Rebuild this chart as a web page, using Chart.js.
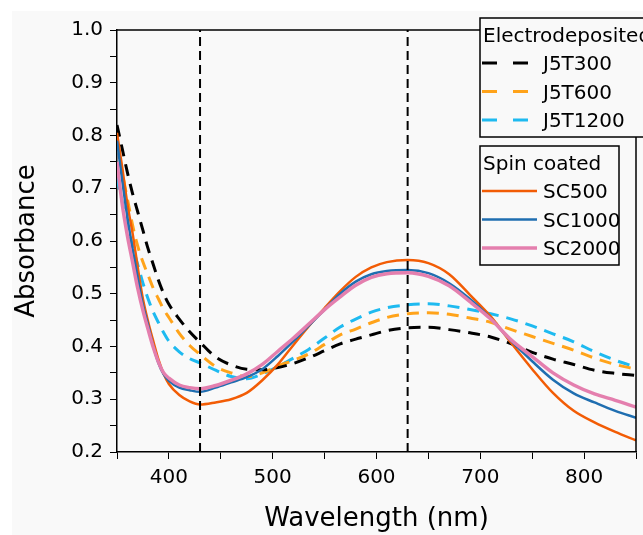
<!DOCTYPE html>
<html>
<head>
<meta charset="utf-8">
<script src="https://cdn.jsdelivr.net/npm/chart.js@4.4.1/dist/chart.umd.min.js"></script>
<style>
  html, body { margin: 0; padding: 0; background: #fff; }
  canvas { display: block; }
</style>
</head>
<body>
<canvas id="myChart" width="643" height="535"></canvas>
<script>
// Wavelength grid (nm)
const wavelengths = [350, 355, 360, 365, 370, 375, 380, 385, 390, 395, 400, 410, 420, 430, 445, 460, 475, 490,
  505, 520, 535, 550, 565, 580, 595, 610, 630, 650, 670, 690, 710, 730, 750, 770, 790, 810, 830, 850];

// Electrodeposited
const j5t300 = [0.82, 0.775, 0.73, 0.69, 0.655, 0.62, 0.585, 0.555, 0.525, 0.5, 0.48, 0.452, 0.428, 0.408, 0.38,
  0.365, 0.357, 0.356, 0.36, 0.368, 0.379, 0.392, 0.405, 0.414, 0.422, 0.43, 0.4355, 0.4365, 0.432, 0.426,
  0.418, 0.405, 0.389, 0.376, 0.366, 0.355, 0.349, 0.345];
const j5t600 = [0.79, 0.73, 0.68, 0.63, 0.59, 0.56, 0.535, 0.51, 0.49, 0.47, 0.455, 0.425, 0.402, 0.385, 0.362,
  0.35, 0.343, 0.35, 0.363, 0.374, 0.386, 0.404, 0.422, 0.433, 0.445, 0.455, 0.462, 0.464, 0.461, 0.454,
  0.446, 0.432, 0.419, 0.406, 0.393, 0.378, 0.366, 0.357];
const j5t1200 = [0.72, 0.675, 0.63, 0.59, 0.555, 0.52, 0.49, 0.465, 0.445, 0.426, 0.41, 0.39, 0.377, 0.369, 0.355,
  0.343, 0.339, 0.348, 0.362, 0.378, 0.395, 0.416, 0.437, 0.452, 0.465, 0.4735, 0.479, 0.481, 0.477, 0.47,
  0.462, 0.452, 0.439, 0.424, 0.409, 0.39, 0.374, 0.361];

// Spin coated
const sc500 = [0.805, 0.74, 0.67, 0.615, 0.55, 0.49, 0.447, 0.41, 0.375, 0.348, 0.329, 0.308, 0.296, 0.29, 0.294,
  0.3, 0.312, 0.336, 0.366, 0.403, 0.439, 0.473, 0.505, 0.532, 0.55, 0.56, 0.564, 0.558, 0.537, 0.498,
  0.457, 0.406, 0.357, 0.312, 0.278, 0.256, 0.238, 0.222];
const sc1000 = [0.79, 0.715, 0.645, 0.585, 0.53, 0.478, 0.44, 0.4, 0.368, 0.347, 0.335, 0.322, 0.317, 0.314, 0.322,
  0.332, 0.342, 0.357, 0.382, 0.41, 0.44, 0.47, 0.5, 0.523, 0.537, 0.543, 0.545, 0.539, 0.52, 0.49,
  0.453, 0.41, 0.372, 0.337, 0.311, 0.294, 0.278, 0.265];
const sc2000 = [0.75, 0.67, 0.61, 0.56, 0.51, 0.468, 0.432, 0.398, 0.37, 0.35, 0.34, 0.327, 0.322, 0.32, 0.326,
  0.336, 0.348, 0.366, 0.391, 0.416, 0.443, 0.47, 0.494, 0.516, 0.531, 0.538, 0.54, 0.533, 0.515, 0.485,
  0.452, 0.412, 0.381, 0.35, 0.327, 0.31, 0.298, 0.285];

// Reference lines (nm)
const markerLines = [430, 630];

const FONT = 'DejaVu Sans';

function toPoints(ys) {
  return wavelengths.map((x, i) => ({ x: x, y: ys[i] }));
}

function curve(label, ys, color, width, dash, group) {
  return {
    label: label,
    group: group,
    data: toPoints(ys),
    borderColor: color,
    borderWidth: width,
    borderDash: dash,
    pointRadius: 0,
    cubicInterpolationMode: 'monotone',
    fill: false
  };
}

const datasets = markerLines.map(w => ({
  label: 'line' + w,
  data: [{ x: w, y: 0.2 }, { x: w, y: 1.0 }],
  borderColor: '#000',
  borderWidth: 2,
  borderDash: [9, 5],
  pointRadius: 0
}));

datasets.push(
  curve('SC2000', sc2000, '#e47fae', 3.5, [], 'Spin coated'),
  curve('SC1000', sc1000, '#1f6eb0', 2.5, [], 'Spin coated'),
  curve('SC500', sc500, '#f25c05', 2.5, [], 'Spin coated'),
  curve('J5T300', j5t300, '#000000', 3, [12, 8], 'Electrodeposited'),
  curve('J5T600', j5t600, '#ffa31a', 3, [12, 8], 'Electrodeposited'),
  curve('J5T1200', j5t1200, '#1ebaf0', 3, [12, 8], 'Electrodeposited')
);

const bgPlugin = {
  id: 'bg',
  beforeDraw(chart) {
    const ctx = chart.ctx;
    ctx.save();
    ctx.fillStyle = '#ffffff';
    ctx.fillRect(0, 0, chart.width, chart.height);
    ctx.fillStyle = '#f9f9f9';
    ctx.fillRect(12, 11, chart.width - 12, chart.height - 11);
    ctx.restore();
  }
};

function drawBox(ctx, chart, x, y, w, h, title, samplesEnd) {
  ctx.fillStyle = '#f9f9f9';
  ctx.fillRect(x, y, w, h);
  ctx.strokeStyle = '#000';
  ctx.lineWidth = 1.5;
  ctx.setLineDash([]);
  ctx.strokeRect(x, y, w, h);
  ctx.font = '20px "' + FONT + '"';
  ctx.textBaseline = 'middle';
  ctx.fillStyle = '#000';
  ctx.fillText(title, x + 3, y + 19);
  const items = chart.data.datasets.filter(d => d.group === title);
  const order = title === 'Spin coated' ? ['SC500', 'SC1000', 'SC2000'] : ['J5T300', 'J5T600', 'J5T1200'];
  order.forEach((name, i) => {
    const d = items.find(it => it.label === name);
    const cy = y + 46 + i * 28.5;
    ctx.strokeStyle = d.borderColor;
    ctx.lineWidth = d.borderWidth;
    ctx.setLineDash(d.borderDash.length ? [15, 16] : []);
    ctx.beginPath();
    ctx.moveTo(x + 2, cy - 1);
    ctx.lineTo(samplesEnd, cy - 1);
    ctx.stroke();
    ctx.setLineDash([]);
    ctx.fillStyle = '#000';
    ctx.fillText(name, 543, cy + 1);
  });
}

const framePlugin = {
  id: 'frame',
  afterDraw(chart) {
    const ctx = chart.ctx;
    const { left, right, top, bottom } = chart.chartArea;
    ctx.save();
    ctx.strokeStyle = '#000';
    ctx.lineWidth = 1.5;
    ctx.beginPath();
    ctx.moveTo(left, top);
    ctx.lineTo(right, top);
    ctx.lineTo(right, bottom);
    ctx.stroke();
    drawBox(ctx, chart, 480, 18, 175, 119, 'Electrodeposited', 530);
    drawBox(ctx, chart, 480, 146, 139, 119, 'Spin coated', 537);
    ctx.restore();
  }
};

const ctx = document.getElementById('myChart');
const myChart = new Chart(ctx, {
  type: 'line',
  data: { datasets: datasets },
  options: {
    responsive: false,
    animation: false,
    devicePixelRatio: 1,
    layout: { padding: { left: 0, top: 30, right: 3, bottom: 0 } },
    scales: {
      x: {
        type: 'linear',
        min: 350,
        max: 850,
        afterFit(scale) { scale.height = 83; },
        border: { color: '#000', width: 1.5 },
        grid: { drawOnChartArea: false, drawTicks: true, tickLength: 7, color: '#000', lineWidth: 1 },
        ticks: {
          stepSize: 50,
          autoSkip: false,
          maxRotation: 0,
          padding: 7,
          color: '#000',
          font: { family: FONT, size: 20 },
          callback: v => (v % 100 === 0 ? String(v) : '')
        },
        title: {
          display: true,
          text: 'Wavelength (nm)',
          color: '#000',
          font: { family: FONT, size: 26 },
          padding: { top: 0, bottom: 0 }
        }
      },
      y: {
        min: 0.2,
        max: 1.0,
        afterFit(scale) { scale.width = 117; },
        border: { color: '#000', width: 1.5 },
        grid: { drawOnChartArea: false, drawTicks: true, tickLength: 7, color: '#000', lineWidth: 1 },
        ticks: {
          stepSize: 0.05,
          autoSkip: false,
          padding: 7,
          color: '#000',
          font: { family: FONT, size: 20 },
          callback: v => (Math.round(v * 100) % 10 === 0 ? v.toFixed(1) : '')
        },
        title: {
          display: true,
          text: 'Absorbance',
          color: '#000',
          font: { family: FONT, size: 26 },
          padding: { top: 12, bottom: 0 }
        }
      }
    },
    plugins: {
      legend: { display: false },
      tooltip: { enabled: false }
    }
  },
  plugins: [bgPlugin, framePlugin]
});
</script>
</body>
</html>
